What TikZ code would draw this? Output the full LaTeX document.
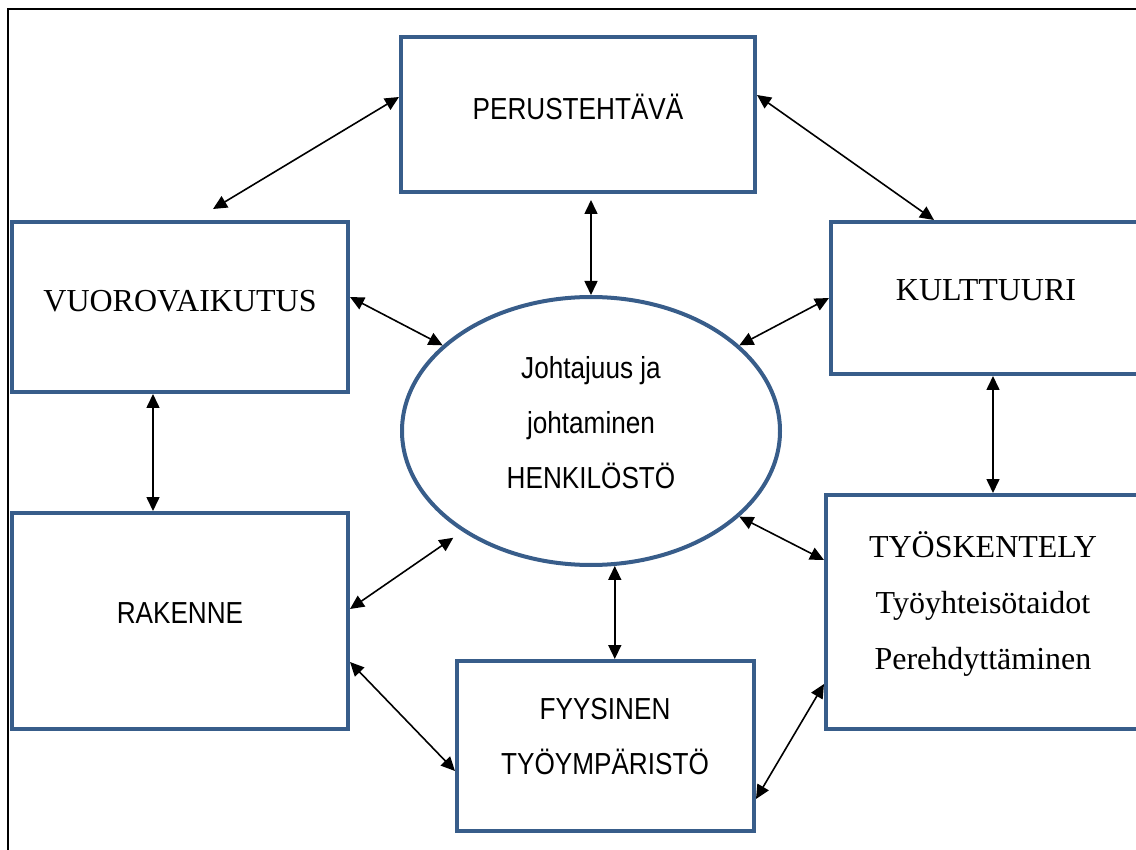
\documentclass[tikz,border=0pt]{standalone}
\usepackage{fontspec}
\setmainfont{Liberation Serif}
\newfontfamily\arialn[FakeStretch=0.86]{Liberation Sans}
\usetikzlibrary{shapes.geometric,arrows.meta}
\definecolor{boxblue}{HTML}{385D8A}
\begin{document}
\begin{tikzpicture}[x=0.5pt,y=-0.5pt,
    box/.style={draw=boxblue,line width=2pt,rectangle,inner sep=0pt},
    oval/.style={draw=boxblue,line width=2pt,ellipse,inner sep=0pt},
    sanstxt/.style={font=\arialn\fontsize{15.2}{27.5}\selectfont,align=center,inner sep=0pt},
    seriftxt/.style={font=\fontsize{16}{28}\selectfont,align=center,inner sep=0pt},
    link/.style={line width=0.8pt,>={Triangle[length=7pt,width=6.5pt]},<->}]
    \useasboundingbox (0,0) rectangle (1136,850);
    \draw[line width=0.8pt] (8,9) rectangle (1160,870);
    \node[box,minimum width=177pt,minimum height=77.5pt] (perus) at (578,114.5) {};
    \node[box,minimum width=168pt,minimum height=85pt] (vuoro) at (180,307) {};
    \node[box,minimum width=155pt,minimum height=76pt] (kult) at (986,298) {};
    \node[box,minimum width=157pt,minimum height=117pt] (tyosk) at (983,612) {};
    \node[box,minimum width=168pt,minimum height=108pt] (rak) at (180,621) {};
    \node[box,minimum width=148.5pt,minimum height=85pt] (fyys) at (605.5,746) {};
    \node[oval,minimum width=189pt,minimum height=134pt] (ell) at (591,431) {};
    \node[sanstxt] (perus-txt) at (578,107) {PERUSTEHTÄVÄ};
    \node[seriftxt] (vuoro-txt) at (180,301) {VUOROVAIKUTUS};
    \node[seriftxt] (kult-txt) at (986,290) {KULTTUURI};
    \node[seriftxt] (tyosk-txt) at (983,604) {TYÖSKENTELY\\Työyhteisötaidot\\Perehdyttäminen};
    \node[sanstxt] (rak-txt) at (180,613) {RAKENNE};
    \node[sanstxt] (fyys-txt) at (605,737) {FYYSINEN\\TYÖYMPÄRISTÖ};
    \node[sanstxt] (ell-txt) at (591,423) {Johtajuus ja\\johtaminen\\HENKILÖSTÖ};
    \draw[link] ([shift={(0,-17.5)}]perus.west) -- ([shift={(33,-11)}]vuoro.north);
    \draw[link] ([shift={(0,-19.5)}]perus.east) -- ([shift={(-52,0)}]kult.north);
    \draw[link,shorten <=3pt] (perus.south -| ell.north) -- (ell.north);
    \draw[link] ([shift={(0,-10)}]vuoro.east) -- (ell.150);
    \draw[link] (kult.west) -- (ell.30);
    \draw[link] ([shift={(-27,0)}]vuoro.south) -- ([shift={(-27,0)}]rak.north);
    \draw[link] ([shift={(7,0)}]kult.south) -- ([shift={(10,0)}]tyosk.north);
    \draw[link] (ell.-30) -- ([shift={(0,-52)}]tyosk.west);
    \draw[link,shorten >=5.5pt] ([shift={(0,-12)}]rak.east) -- (ell.218);
    \draw[link] (ell.-80) -- (ell.-80 |- fyys.north);
    \draw[link] ([shift={(0,41)}]rak.east) -- ([shift={(0,25)}]fyys.west);
    \draw[link] ([shift={(0,53)}]fyys.east) -- ([shift={(0,72)}]tyosk.west);
\end{tikzpicture}
\end{document}
